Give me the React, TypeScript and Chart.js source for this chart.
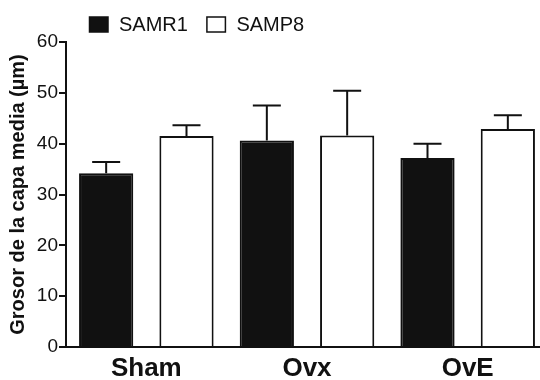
import React, { useEffect, useRef } from "react";
import { Chart, registerables } from "chart.js";

Chart.register(...registerables);

// Group labels and series
const groups = ["Sham", "Ovx", "OvE"];
const seriesNames = ["SAMR1", "SAMP8"];

// Mean thickness (µm) and error (SEM) per group
const samr1Mean = [34.2, 40.6, 37.2];
const samr1Err = [2.2, 6.9, 2.8];
const samp8Mean = [41.5, 41.6, 42.9];
const samp8Err = [2.1, 8.8, 2.7];

// Y axis range
const yMin = 0;
const yMax = 60;
const yStep = 10;

const INK = "#111111";
const SANS = "'Liberation Sans', Arial, Helvetica, sans-serif";
const SANS_NARROW = "'Liberation Sans Narrow', 'Arial Narrow', 'Liberation Sans', Arial, sans-serif";

const errorTable = [samr1Err, samp8Err];

// Upward-only error bars with a cap
const errorBarsPlugin = {
  id: "errorBars",
  afterDatasetsDraw(chart: any) {
    const { ctx } = chart;
    const yScale = chart.scales.y;
    chart.data.datasets.forEach((ds: any, i: number) => {
      const meta = chart.getDatasetMeta(i);
      const errs = errorTable[i];
      meta.data.forEach((bar: any, j: number) => {
        const top = yScale.getPixelForValue(ds.data[j] + errs[j]);
        const x = bar.x;
        ctx.save();
        ctx.strokeStyle = INK;
        ctx.lineWidth = 2;
        ctx.beginPath();
        ctx.moveTo(x, bar.y);
        ctx.lineTo(x, top);
        ctx.moveTo(x - 14, top);
        ctx.lineTo(x + 14, top);
        ctx.stroke();
        ctx.restore();
      });
    });
  },
};

// Legend row above the plot: filled / hollow squares with series names
const legendPlugin = {
  id: "topLegend",
  afterDraw(chart: any) {
    const { ctx } = chart;
    ctx.save();
    ctx.font = `20px ${SANS}`;
    ctx.textBaseline = "alphabetic";
    ctx.textAlign = "left";
    let x = 89.5;
    const boxY = 17;
    const boxW = 18.5;
    const boxH = 15;
    chart.data.datasets.forEach((ds: any) => {
      ctx.fillStyle = ds.backgroundColor;
      ctx.fillRect(x, boxY, boxW, boxH);
      ctx.strokeStyle = INK;
      ctx.lineWidth = 1.5;
      ctx.strokeRect(x, boxY, boxW, boxH);
      ctx.fillStyle = INK;
      const tx = x + boxW + 11;
      ctx.fillText(ds.label, tx, 31);
      x = tx + ctx.measureText(ds.label).width + 19;
    });
    ctx.restore();
  },
};

export default function App() {
  const canvasRef = useRef<HTMLCanvasElement | null>(null);

  useEffect(() => {
    const canvas = canvasRef.current;
    if (!canvas) return;
    const chart = new Chart(canvas, {
      type: "bar",
      data: {
        labels: groups,
        datasets: [
          {
            label: seriesNames[0],
            data: samr1Mean,
            backgroundColor: INK,
            borderColor: INK,
            borderWidth: 2,
            categoryPercentage: 1,
            barPercentage: 0.675,
          },
          {
            label: seriesNames[1],
            data: samp8Mean,
            backgroundColor: "#ffffff",
            borderColor: INK,
            borderWidth: 2,
            categoryPercentage: 1,
            barPercentage: 0.675,
          },
        ],
      },
      options: {
        responsive: false,
        animation: false,
        devicePixelRatio: 1,
        layout: { padding: { top: 42, left: 0, right: 0, bottom: 0 } },
        plugins: {
          legend: { display: false },
          tooltip: { enabled: false },
        },
        scales: {
          x: {
            grid: { display: false, drawTicks: false },
            border: { display: true, color: INK, width: 2 },
            ticks: {
              color: INK,
              padding: 6,
              font: { family: SANS, size: 26, weight: "bold" },
            },
            afterFit(scale: any) {
              scale.height = 33;
            },
          },
          y: {
            min: yMin,
            max: yMax,
            grid: {
              drawOnChartArea: false,
              drawTicks: true,
              tickLength: 7,
              color: INK,
              lineWidth: 2,
            },
            border: { display: true, color: INK, width: 2 },
            ticks: {
              stepSize: yStep,
              color: INK,
              padding: 1,
              font: { family: SANS_NARROW, size: 19 },
            },
            title: {
              display: true,
              text: "Grosor de la capa media (µm)",
              color: INK,
              padding: { top: 6, bottom: 0 },
              font: { family: SANS, size: 20, weight: "bold" },
            },
            afterFit(scale: any) {
              scale.width = 66;
            },
          },
        },
      },
      plugins: [errorBarsPlugin, legendPlugin],
    });
    return () => chart.destroy();
  }, []);

  return (
    <div
      style={{
        position: "absolute",
        left: 0,
        top: 0,
        width: 540,
        height: 380,
        overflow: "hidden",
        background: "#ffffff",
      }}
    >
      <canvas ref={canvasRef} width={548} height={380} style={{ display: "block" }} />
    </div>
  );
}
